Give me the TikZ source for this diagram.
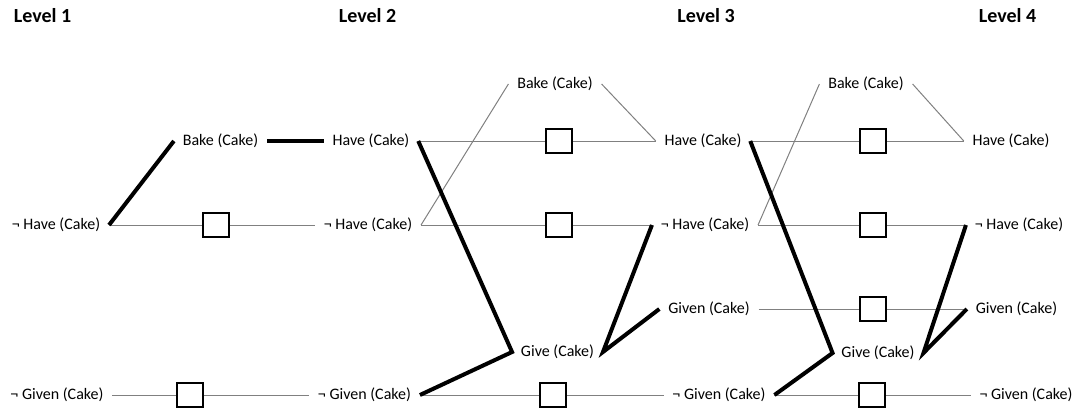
\documentclass[tikz,border=0pt]{standalone}
\usepackage{fontspec}
\setmainfont{Carlito}
\usetikzlibrary{positioning}

\begin{document}
\begin{tikzpicture}[
    x=0.75pt, y=-0.75pt,
    fact/.style={inner xsep=6.5pt, inner ysep=2pt,
                 font=\fontsize{12}{14}\selectfont},
    level/.style={font=\fontsize{15}{18}\selectfont\bfseries},
    noop/.style={draw, line width=1.5pt, minimum width=18pt,
                 minimum height=16.5pt, inner sep=0pt, fill=white},
    faint/.style={draw=black!50, line width=0.75pt},
    heavy/.style={draw, line width=3pt}
  ]
  \useasboundingbox (0,0) rectangle (1085,407);

  % Headers
  \node[level] (lv1) at (42.5, 16) {Level 1};
  \node[level] (lv2) at (367.5, 16) {Level 2};
  \node[level] (lv3) at (706, 16) {Level 3};
  \node[level] (lv4) at (1007.5, 16) {Level 4};

  % Level 1
  \node[fact] (nhaveA) at (56, 225) {¬ Have (Cake)};
  \node[fact] (ngivenA) at (57, 395) {¬ Given (Cake)};
  \node[fact] (bakeA) at (220.5, 141) {Bake (Cake)};

  % Level 2
  \node[fact] (haveB) at (371, 141) {Have (Cake)};
  \node[fact] (nhaveB) at (368, 225) {¬ Have (Cake)};
  \node[fact] (ngivenB) at (364.5, 395) {¬ Given (Cake)};
  \node[fact] (bakeB) at (555, 84) {Bake (Cake)};
  \node[fact] (giveB) at (557.5, 352) {Give (Cake)};

  % Level 3
  \node[fact] (haveC) at (703, 141) {Have (Cake)};
  \node[fact] (nhaveC) at (705, 225) {¬ Have (Cake)};
  \node[fact] (givenC) at (709, 309) {Given (Cake)};
  \node[fact] (ngivenC) at (719, 395) {¬ Given (Cake)};
  \node[fact] (bakeC) at (866, 84) {Bake (Cake)};
  \node[fact] (giveC) at (878, 353) {Give (Cake)};

  % Level 4
  \node[fact] (haveD) at (1011, 141) {Have (Cake)};
  \node[fact] (nhaveD) at (1019, 225) {¬ Have (Cake)};
  \node[fact] (givenD) at (1016.5, 309) {Given (Cake)};
  \node[fact] (ngivenD) at (1026, 395) {¬ Given (Cake)};

  % No-op boxes
  \node[noop] (pHaveA) at (215.5, 225) {};
  \node[noop] (pGivenA) at (190, 395) {};
  \node[noop] (pHaveB) at (558.5, 141) {};
  \node[noop] (pNhaveB) at (558.5, 225) {};
  \node[noop] (pNgivenB) at (553, 395) {};
  \node[noop] (pHaveC) at (872.5, 141) {};
  \node[noop] (pNhaveC) at (872.5, 225) {};
  \node[noop] (pGivenC) at (873, 309) {};
  \node[noop] (pNgivenC) at (872, 395) {};

  % Persistence links
  \draw[faint] (nhaveA.east) -- (pHaveA) -- (nhaveB.west);
  \draw[faint] (ngivenA.east) -- (pGivenA) -- (ngivenB.west);
  \draw[faint] (haveB.east) -- (pHaveB) -- (haveC.west);
  \draw[faint] (nhaveB.east) -- (pNhaveB) -- (nhaveC.west);
  \draw[faint] (ngivenB.east) -- (pNgivenB) -- (ngivenC.west);
  \draw[faint] (haveC.east) -- (pHaveC) -- (haveD.west);
  \draw[faint] (nhaveC.east) -- (pNhaveC) -- (nhaveD.west);
  \draw[faint] (givenC.east) -- (pGivenC) -- (givenD.west);
  \draw[faint] (ngivenC.east) -- (pNgivenC) -- (ngivenD.west);

  % Bake links
  \draw[faint] (nhaveB.east) -- (bakeB.west);
  \draw[faint] (bakeB.east) -- (haveC.west);
  \draw[faint] (nhaveC.east) -- (bakeC.west);
  \draw[faint] (bakeC.east) -- (haveD.west);

  % Heavy links
  \draw[heavy] (nhaveA.east) -- (bakeA.west);
  \draw[heavy] (bakeA.east) -- (haveB.west);
  \draw[heavy] (haveB.east) -- (giveB.west) -- (ngivenB.east);
  \draw[heavy] (nhaveC.west) -- (giveB.east) -- (givenC.west);
  \draw[heavy] (haveC.east) -- (giveC.west) -- (ngivenC.east);
  \draw[heavy] (nhaveD.west) -- (giveC.east) -- (givenD.west);

  % Boxes on top
  \foreach \b in {pHaveA, pGivenA, pHaveB, pNhaveB, pNgivenB,
                  pHaveC, pNhaveC, pGivenC, pNgivenC}
    \draw[line width=1.5pt, fill=white] (\b.south west) rectangle (\b.north east);
\end{tikzpicture}
\end{document}
